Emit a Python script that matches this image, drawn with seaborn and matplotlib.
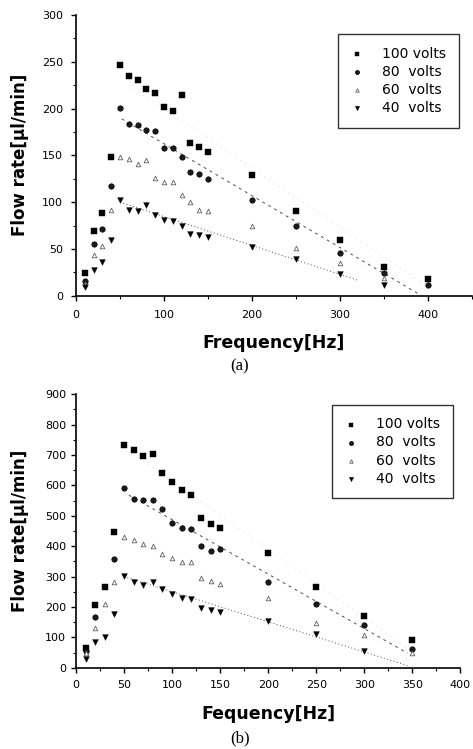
import numpy as np
import pandas as pd
import matplotlib
matplotlib.use("Agg")
import matplotlib.pyplot as plt
from matplotlib.ticker import MultipleLocator, FixedLocator
import seaborn as sns

# ---------------- data: panel (a) ----------------
freq_a = [10, 20, 30, 40, 50, 60, 70, 80, 90, 100, 110, 120, 130, 140, 150, 200, 250, 300, 350, 400]
a_100v = [24, 69, 88, 148, 247, 235, 230, 221, 217, 202, 197, 215, 163, 159, 154, 129, 91, 59, 31, 18]
a_80v = [16, 55, 71, 117, 201, 183, 182, 177, 176, 158, 158, 148, 132, 130, 125, 102, 74, 46, 24, 11]
a_60v = [12, 44, 53, 92, 148, 146, 141, 145, 126, 121, 121, 108, 100, 92, 91, 75, 51, 35, 19, np.nan]
a_40v = [9.6, 28, 36, 59, 102, 92, 90, 97, 86, 81, 80, 74, 66, 65, 63, 52, 39, 23, 11, np.nan]
# fitted trend lines (end points)
a_fit_dash_x = [52, 393]
a_fit_dash_y = [189, 0]
a_fit_dot_x = [50, 322]
a_fit_dot_y = [100, 16]
a_fit_faint_x = [60, 400]
a_fit_faint_y = [225, 10]

# ---------------- data: panel (b) ----------------
freq_b = [10, 20, 30, 40, 50, 60, 70, 80, 90, 100, 110, 120, 130, 140, 150, 200, 250, 300, 350]
b_100v = [66, 207, 265, 446, 733, 717, 698, 704, 642, 611, 585, 570, 493, 474, 460, 376, 266, 171, 91]
b_80v = [55, 168, np.nan, 357, 592, 554, 553, 553, 521, 475, 461, 456, 402, 383, 391, 283, 210, 140, 63]
b_60v = [47, 132, 209, 281, 429, 420, 406, 402, 373, 360, 349, 347, 296, 285, 274, 228, 148, 108, 47]
b_40v = [28, 85, 100, 178, 302, 281, 272, 283, 258, 243, 230, 226, 198, 190, 182, 154, 110, 55, np.nan]
b_fit_dash_x = [55, 345]
b_fit_dash_y = [568, 48]
b_fit_dot_x = [50, 347]
b_fit_dot_y = [300, 5]
b_fit_faint_x = [60, 350]
b_fit_faint_y = [704, 52]

labels = ["100 volts", "80  volts", "60  volts", "40  volts"]

# ---------------- figure ----------------
sns.set_theme(style="ticks")
plt.rcParams["font.family"] = ["DejaVu Sans"]
plt.rcParams["axes.linewidth"] = 1.2

W, H = 473, 749
fig = plt.figure(figsize=(W / 100, H / 100), dpi=100)


def ax_px(left, top, right, bottom):
    return fig.add_axes([left / W, 1 - bottom / H, (right - left) / W, (bottom - top) / H])


ax_a = ax_px(76, 15.0, 471.8, 295.7)
ax_b = ax_px(76, 394.3, 460.4, 667.7)

styles = [
    dict(marker="s", s=13, color="black", edgecolor="black", linewidth=0.3),
    dict(marker="o", s=15, color="#1a1a1a", edgecolor="black", linewidth=0.5),
    dict(marker="^", s=11, color="white", edgecolor="#606060", linewidth=0.6),
    dict(marker="v", s=17, color="black", edgecolor="black", linewidth=0.3),
]


def draw_panel(ax, freq, series, dash, dot, faint):
    for vals, lab, st in zip(series, labels, styles):
        df = pd.DataFrame({"f": freq, "v": vals}).dropna()
        sns.scatterplot(data=df, x="f", y="v", ax=ax, label=lab, zorder=3, **st)
    sns.lineplot(x=faint[0], y=faint[1], ax=ax, color="#dcdcdc", linewidth=0.7,
                 linestyle=(0, (1, 5)), zorder=1)
    sns.lineplot(x=dash[0], y=dash[1], ax=ax, color="#505050", linewidth=0.7,
                 linestyle=(0, (3, 4)), zorder=2)
    sns.lineplot(x=dot[0], y=dot[1], ax=ax, color="#505050", linewidth=0.7,
                 linestyle=(0, (1, 2.5)), zorder=2)


draw_panel(ax_a, freq_a, [a_100v, a_80v, a_60v, a_40v],
           (a_fit_dash_x, a_fit_dash_y), (a_fit_dot_x, a_fit_dot_y), (a_fit_faint_x, a_fit_faint_y))
draw_panel(ax_b, freq_b, [b_100v, b_80v, b_60v, b_40v],
           (b_fit_dash_x, b_fit_dash_y), (b_fit_dot_x, b_fit_dot_y), (b_fit_faint_x, b_fit_faint_y))

# axes (a)
ax_a.set_xlim(0, 450)
ax_a.set_ylim(0, 300)
ax_a.xaxis.set_major_locator(FixedLocator([0, 100, 200, 300, 400]))
ax_a.xaxis.set_minor_locator(MultipleLocator(50))
ax_a.yaxis.set_major_locator(MultipleLocator(50))
ax_a.yaxis.set_minor_locator(MultipleLocator(25))
ax_a.tick_params(axis="x", which="major", pad=7)
ax_a.tick_params(axis="y", which="major", pad=6)

# axes (b)
ax_b.set_xlim(0, 400)
ax_b.set_ylim(0, 900)
ax_b.xaxis.set_major_locator(MultipleLocator(50))
ax_b.xaxis.set_minor_locator(MultipleLocator(25))
ax_b.yaxis.set_major_locator(MultipleLocator(100))
ax_b.yaxis.set_minor_locator(MultipleLocator(50))
ax_b.tick_params(axis="x", which="major", pad=5)
ax_b.tick_params(axis="y", which="major", pad=3.5)

for ax in (ax_a, ax_b):
    sns.despine(ax=ax)
    ax.spines["left"].set_color("black")
    ax.spines["bottom"].set_color("black")
    ax.tick_params(which="major", length=3.5, width=1.0, color="black",
                   labelsize=8, labelcolor="black", direction="out")
    ax.tick_params(which="minor", length=2.2, width=0.8, color="black", direction="out")
    ax.grid(False)

ax_a.set_xlabel("Frequency[Hz]", fontsize=12.5, fontweight="bold", color="black")
ax_b.set_xlabel("Fequency[Hz]", fontsize=12.5, fontweight="bold", color="black")
for ax in (ax_a, ax_b):
    ax.set_ylabel("Flow rate[\u00b5l/min]", fontsize=12, fontweight="bold", color="black")

ax_a.xaxis.set_label_coords(0.5, -0.135)
ax_b.xaxis.set_label_coords(0.4995, -0.135)
ax_a.yaxis.set_label_coords((29 - 76) / 395.8, 0.5)
ax_b.yaxis.set_label_coords((29 - 76) / 384.4, 0.5)

# legends
for ax, (lx, ly) in ((ax_a, (338, 34)), (ax_b, (332, 404.7))):
    leg = ax.legend(loc="upper left", bbox_to_anchor=(lx / W, 1 - ly / H),
                    bbox_transform=fig.transFigure, borderaxespad=0,
                    frameon=True, fancybox=False, shadow=False,
                    fontsize=10, handlelength=1.0, handletextpad=1.3,
                    borderpad=0.9, labelspacing=0.3, markerscale=0.75)
    leg.get_frame().set_edgecolor("black")
    leg.get_frame().set_linewidth(1.0)
    leg.get_frame().set_facecolor("white")
    for t in leg.get_texts():
        t.set_color("black")

# captions
fig.text(240 / W, 1 - 366.7 / H, "(a)", ha="center", va="center",
         fontsize=12, family="Liberation Serif", color="black")
fig.text(240 / W, 1 - 738 / H, "(b)", ha="center", va="center",
         fontsize=12, family="Liberation Serif", color="black")

fig.savefig("out.png", dpi=100, facecolor="white")
